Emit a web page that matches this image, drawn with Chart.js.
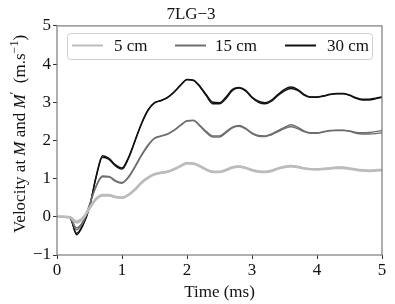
<!DOCTYPE html>
<html>
<head>
<meta charset="utf-8">
<script src="https://cdn.jsdelivr.net/npm/chart.js@4"></script>
<style>
  html, body { margin: 0; padding: 0; background: #fff; }
  #wrap { width: 395px; height: 304px; }
</style>
</head>
<body>
<div id="wrap"><canvas id="velChart" width="395" height="304"></canvas></div>
<script>
// time samples every 0.1 ms
var times = [];
for (var i = 0; i <= 50; i++) times.push(i / 10);

var labels = ["5 cm", "15 cm", "30 cm"];
var colors = ["#bcbcbc", "#6e6e6e", "#111111"];
var xTicks = [0, 1, 2, 3, 4, 5];
var yTicks = [-1, 0, 1, 2, 3, 4, 5];

// velocity at M and M' (m/s)
var v5M = [0, 0, -0.01, -0.15, -0.04, 0.22, 0.46, 0.57, 0.57, 0.52,
  0.50, 0.58, 0.72, 0.90, 1.03, 1.12, 1.16, 1.18, 1.25, 1.33,
  1.40, 1.39, 1.32, 1.23, 1.18, 1.18, 1.23, 1.30, 1.32, 1.28,
  1.23, 1.19, 1.18, 1.21, 1.27, 1.31, 1.33, 1.31, 1.27, 1.25,
  1.25, 1.26, 1.27, 1.29, 1.29, 1.27, 1.24, 1.22, 1.21, 1.22, 1.23];
var v5Mp = [0, 0, -0.01, -0.12, -0.02, 0.23, 0.47, 0.56, 0.56, 0.52,
  0.50, 0.57, 0.71, 0.89, 1.02, 1.11, 1.15, 1.18, 1.24, 1.33,
  1.41, 1.40, 1.33, 1.24, 1.17, 1.17, 1.22, 1.29, 1.31, 1.28,
  1.22, 1.18, 1.17, 1.20, 1.26, 1.30, 1.32, 1.30, 1.27, 1.25,
  1.24, 1.25, 1.27, 1.28, 1.28, 1.26, 1.23, 1.21, 1.20, 1.21, 1.22];
var v15M = [0, 0, -0.02, -0.34, -0.15, 0.30, 0.80, 1.07, 1.06, 0.95,
  0.90, 1.05, 1.32, 1.62, 1.88, 2.06, 2.12, 2.17, 2.27, 2.40,
  2.52, 2.53, 2.39, 2.23, 2.12, 2.12, 2.23, 2.35, 2.39, 2.32,
  2.20, 2.13, 2.12, 2.17, 2.26, 2.34, 2.41, 2.35, 2.25, 2.20,
  2.20, 2.23, 2.26, 2.27, 2.27, 2.25, 2.21, 2.20, 2.21, 2.23, 2.26];
var v15Mp = [0, 0, -0.02, -0.29, -0.12, 0.32, 0.79, 1.05, 1.04, 0.93,
  0.88, 1.03, 1.30, 1.60, 1.86, 2.05, 2.11, 2.16, 2.26, 2.39,
  2.51, 2.52, 2.37, 2.20, 2.09, 2.09, 2.20, 2.33, 2.37, 2.30,
  2.18, 2.11, 2.10, 2.15, 2.23, 2.31, 2.36, 2.31, 2.23, 2.19,
  2.19, 2.22, 2.25, 2.26, 2.26, 2.24, 2.19, 2.17, 2.17, 2.18, 2.20];
var v30M = [0, 0, -0.02, -0.47, -0.22, 0.25, 1.05, 1.60, 1.53, 1.36,
  1.28, 1.56, 2.00, 2.45, 2.80, 2.99, 3.05, 3.13, 3.27, 3.45,
  3.60, 3.58, 3.42, 3.19, 3.00, 2.99, 3.14, 3.34, 3.39, 3.32,
  3.14, 3.03, 2.99, 3.06, 3.21, 3.34, 3.40, 3.34, 3.21, 3.14,
  3.14, 3.17, 3.21, 3.23, 3.23, 3.19, 3.12, 3.08, 3.08, 3.11, 3.14];
var v30Mp = [0, 0, -0.02, -0.43, -0.20, 0.27, 1.02, 1.56, 1.50, 1.33,
  1.25, 1.53, 1.98, 2.43, 2.78, 2.98, 3.04, 3.12, 3.26, 3.44,
  3.59, 3.57, 3.40, 3.16, 2.96, 2.96, 3.10, 3.31, 3.37, 3.30,
  3.12, 3.00, 2.96, 3.03, 3.18, 3.30, 3.36, 3.31, 3.19, 3.13,
  3.13, 3.16, 3.20, 3.22, 3.22, 3.18, 3.10, 3.06, 3.06, 3.09, 3.13];

var serif = "'Liberation Serif', 'DejaVu Serif', serif";
var fs = 17;

function pts(vals) {
  return vals.map(function (v, i) { return { x: times[i], y: v }; });
}

function line(label, vals, color, width) {
  return {
    label: label,
    data: pts(vals),
    borderColor: color,
    borderWidth: width,
    pointRadius: 0,
    fill: false,
    cubicInterpolationMode: "monotone"
  };
}

var frame = {
  id: "frame",
  afterDatasetsDraw: function (chart) {
    var a = chart.chartArea, ctx = chart.ctx;
    ctx.save();
    ctx.strokeStyle = "#7a7a7a";
    ctx.lineWidth = 1.2;
    ctx.strokeRect(a.left, a.top, a.right - a.left, a.bottom - a.top);
    ctx.restore();
  }
};

var legendBox = {
  id: "legendBox",
  afterDraw: function (chart) {
    var ctx = chart.ctx;
    ctx.save();
    ctx.beginPath();
    ctx.roundRect(67.5, 33.5, 305, 26, 3);
    ctx.fillStyle = "rgba(255,255,255,0.8)";
    ctx.fill();
    ctx.strokeStyle = "#d0d0d0";
    ctx.lineWidth = 1;
    ctx.stroke();
    var lineX = [72, 175, 285];
    var textX = [114, 215, 327];
    ctx.font = fs + "px " + serif;
    ctx.textBaseline = "alphabetic";
    for (var i = 0; i < labels.length; i++) {
      ctx.beginPath();
      ctx.strokeStyle = colors[i];
      ctx.lineWidth = 2;
      ctx.moveTo(lineX[i], 45.5);
      ctx.lineTo(lineX[i] + 31, 45.5);
      ctx.stroke();
      ctx.fillStyle = "#111";
      ctx.fillText(labels[i], textX[i], 51);
    }
    ctx.restore();
  }
};

var yTitle = {
  id: "yTitle",
  afterDraw: function (chart) {
    var ctx = chart.ctx, a = chart.chartArea;
    var base = fs + "px " + serif, ital = "italic " + fs + "px " + serif, small = "12px " + serif;
    var parts = [
      { t: "Velocity at ", f: base, dy: 0 },
      { t: "M", f: ital, dy: 0 },
      { t: " and ", f: base, dy: 0 },
      { t: "M", f: ital, dy: 0 },
      { t: "\u2032", f: small, dy: -7 },
      { t: "  (m.s", f: base, dy: 0 },
      { t: "\u22121", f: small, dy: -7 },
      { t: ")", f: base, dy: 0 }
    ];
    ctx.save();
    var total = 0;
    parts.forEach(function (p) { ctx.font = p.f; p.w = ctx.measureText(p.t).width; total += p.w; });
    ctx.translate(25, 134);
    ctx.rotate(-Math.PI / 2);
    ctx.fillStyle = "#111";
    ctx.textBaseline = "alphabetic";
    var x = -total / 2;
    parts.forEach(function (p) {
      ctx.font = p.f;
      ctx.fillText(p.t, x, p.dy);
      x += p.w;
    });
    ctx.restore();
  }
};

new Chart(document.getElementById("velChart").getContext("2d"), {
  type: "line",
  data: {
    datasets: [
      line(labels[0], v5M, colors[0], 2.4),
      line(labels[0], v5Mp, colors[0], 2.4),
      line(labels[1], v15M, colors[1], 1.4),
      line(labels[1], v15Mp, colors[1], 1.4),
      line(labels[2], v30M, colors[2], 1.4),
      line(labels[2], v30Mp, colors[2], 1.4)
    ]
  },
  options: {
    responsive: false,
    animation: false,
    layout: { padding: { right: 13, left: 0, top: 0, bottom: 0 } },
    plugins: {
      legend: { display: false },
      tooltip: { enabled: false },
      title: {
        display: true,
        text: "7LG\u22123",
        color: "#111",
        font: { family: serif, size: fs, weight: "normal" },
        padding: { top: 4, bottom: 1.5 }
      }
    },
    scales: {
      x: {
        type: "linear",
        min: 0,
        max: 5,
        afterFit: function (s) { s.height = 49; },
        afterBuildTicks: function (s) { s.ticks = xTicks.map(function (v) { return { value: v }; }); },
        border: { display: false },
        grid: { drawOnChartArea: false, drawTicks: true, tickLength: 4, color: "#333" },
        ticks: { color: "#111", padding: 1, maxRotation: 0, font: { family: serif, size: fs } },
        title: {
          display: true,
          text: "Time (ms)",
          color: "#111",
          font: { family: serif, size: fs },
          padding: { top: 0, bottom: 1 }
        }
      },
      y: {
        type: "linear",
        min: -1,
        max: 5,
        afterFit: function (s) { s.width = 57; },
        afterBuildTicks: function (s) { s.ticks = yTicks.map(function (v) { return { value: v }; }); },
        border: { display: false },
        grid: { drawOnChartArea: false, drawTicks: true, tickLength: 4, color: "#333" },
        ticks: {
          color: "#111",
          padding: 2,
          font: { family: serif, size: fs },
          callback: function (v) { return v < 0 ? "\u2212" + Math.abs(v) : String(v); }
        }
      }
    }
  },
  plugins: [frame, legendBox, yTitle]
});
</script>
</body>
</html>
